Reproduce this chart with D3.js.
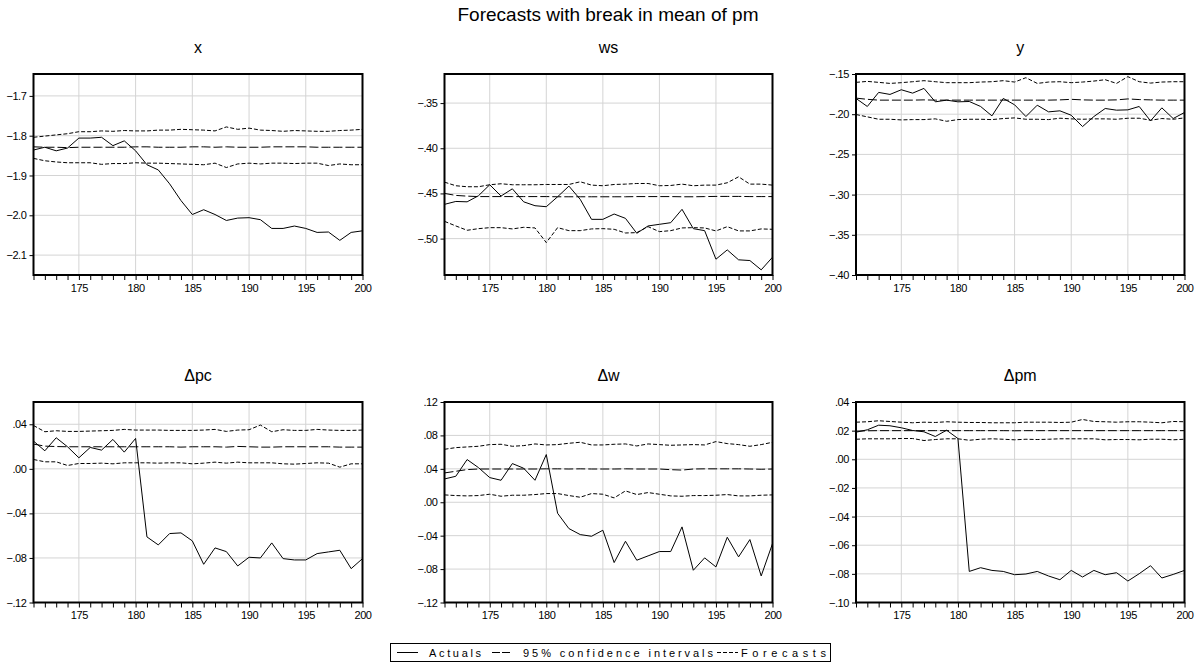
<!DOCTYPE html>
<html>
<head>
<meta charset="utf-8">
<script src="https://cdn.jsdelivr.net/npm/d3@7"></script>
<style>
  body { margin: 0; background: #fff; }
  svg { font-family: "Liberation Sans", Arial, sans-serif; }
  .tick text { font-size: 11px; fill: #000; letter-spacing: -0.4px; }
  .tick line { stroke: #000; }
  .grid line { stroke: #d4d4d4; stroke-width: 1; }
  .frame { fill: none; stroke: #000; stroke-width: 2; }
  .ptitle { font-size: 16px; text-anchor: middle; }
  .legend text { font-size: 11px; }
</style>
</head>
<body>
<svg width="1203" height="666"></svg>
<script>
var years = [171,172,173,174,175,176,177,178,179,180,181,182,183,184,185,186,187,188,189,190,191,192,193,194,195,196,197,198,199,200];
var xLabelYears = [175,180,185,190,195,200];

// x
var xActual = [-1.836,-1.829,-1.838,-1.831,-1.806,-1.806,-1.804,-1.825,-1.813,-1.838,-1.873,-1.886,-1.921,-1.963,-1.998,-1.986,-1.998,-2.013,-2.007,-2.006,-2.011,-2.033,-2.033,-2.027,-2.033,-2.043,-2.042,-2.063,-2.043,-2.039];
var xMid    = [-1.828,-1.829,-1.829,-1.830,-1.829,-1.829,-1.829,-1.829,-1.829,-1.828,-1.828,-1.829,-1.829,-1.829,-1.828,-1.828,-1.829,-1.828,-1.829,-1.829,-1.829,-1.828,-1.828,-1.828,-1.828,-1.829,-1.829,-1.829,-1.829,-1.829];
var xUpper  = [-1.804,-1.801,-1.798,-1.795,-1.790,-1.790,-1.788,-1.789,-1.787,-1.788,-1.788,-1.786,-1.786,-1.784,-1.785,-1.786,-1.788,-1.778,-1.784,-1.781,-1.786,-1.787,-1.789,-1.787,-1.788,-1.789,-1.789,-1.787,-1.786,-1.784];
var xLower  = [-1.857,-1.863,-1.866,-1.868,-1.868,-1.868,-1.872,-1.870,-1.870,-1.868,-1.869,-1.869,-1.870,-1.871,-1.872,-1.873,-1.869,-1.880,-1.871,-1.869,-1.871,-1.869,-1.869,-1.870,-1.869,-1.869,-1.875,-1.871,-1.873,-1.873];
var xTicks  = [-1.7,-1.8,-1.9,-2.0,-2.1];

// ws
var wsActual = [-0.4621,-0.4589,-0.4593,-0.4526,-0.4404,-0.4529,-0.4449,-0.4593,-0.4636,-0.4647,-0.4537,-0.4419,-0.4566,-0.4787,-0.4787,-0.4728,-0.4776,-0.4941,-0.4860,-0.4842,-0.4824,-0.4676,-0.4890,-0.4912,-0.5228,-0.5125,-0.5235,-0.5243,-0.5346,-0.5206];
var wsMid    = [-0.4500,-0.4522,-0.4530,-0.4535,-0.4535,-0.4535,-0.4535,-0.4535,-0.4535,-0.4535,-0.4537,-0.4537,-0.4537,-0.4537,-0.4537,-0.4537,-0.4537,-0.4535,-0.4535,-0.4535,-0.4535,-0.4537,-0.4537,-0.4535,-0.4533,-0.4533,-0.4533,-0.4535,-0.4535,-0.4535];
var wsUpper  = [-0.4375,-0.4415,-0.4426,-0.4426,-0.4404,-0.4393,-0.4404,-0.4404,-0.4404,-0.4401,-0.4401,-0.4401,-0.4371,-0.4408,-0.4415,-0.4401,-0.4397,-0.4390,-0.4390,-0.4415,-0.4412,-0.4397,-0.4415,-0.4408,-0.4408,-0.4382,-0.4316,-0.4397,-0.4397,-0.4408];
var wsLower  = [-0.4809,-0.4860,-0.4908,-0.4890,-0.4879,-0.4879,-0.4893,-0.4875,-0.4882,-0.5044,-0.4879,-0.4912,-0.4912,-0.4893,-0.4890,-0.4897,-0.4938,-0.4934,-0.4868,-0.4923,-0.4912,-0.4882,-0.4879,-0.4882,-0.4915,-0.4868,-0.4915,-0.4915,-0.4893,-0.4897];
var wsTicks  = [-0.35,-0.40,-0.45,-0.50];

// y
var yActual = [-0.1804,-0.1904,-0.1729,-0.1754,-0.1696,-0.1738,-0.1679,-0.1846,-0.1825,-0.1846,-0.1842,-0.1904,-0.2021,-0.1804,-0.1883,-0.2029,-0.1888,-0.1971,-0.1958,-0.2013,-0.2154,-0.2029,-0.1929,-0.1950,-0.1946,-0.1904,-0.2083,-0.1921,-0.2054,-0.1979];
var yMid    = [-0.1800,-0.1815,-0.1825,-0.1825,-0.1825,-0.1825,-0.1822,-0.1825,-0.1825,-0.1825,-0.1825,-0.1825,-0.1825,-0.1825,-0.1825,-0.1825,-0.1825,-0.1825,-0.1822,-0.1815,-0.1822,-0.1825,-0.1825,-0.1822,-0.1810,-0.1818,-0.1822,-0.1825,-0.1825,-0.1825];
var yUpper  = [-0.1604,-0.1592,-0.1604,-0.1617,-0.1608,-0.1596,-0.1583,-0.1596,-0.1608,-0.1608,-0.1608,-0.1600,-0.1596,-0.1583,-0.1600,-0.1546,-0.1617,-0.1600,-0.1596,-0.1608,-0.1600,-0.1588,-0.1571,-0.1617,-0.1533,-0.1596,-0.1613,-0.1600,-0.1596,-0.1596];
var yLower  = [-0.2004,-0.2033,-0.2063,-0.2063,-0.2071,-0.2067,-0.2067,-0.2058,-0.2088,-0.2067,-0.2063,-0.2063,-0.2067,-0.2054,-0.2046,-0.2063,-0.2063,-0.2067,-0.2050,-0.2058,-0.2063,-0.2058,-0.2058,-0.2063,-0.2050,-0.2050,-0.2075,-0.2054,-0.2063,-0.2046];
var yTicks  = [-0.15,-0.20,-0.25,-0.30,-0.35,-0.40];

// Δpc
var pcActual = [0.0249,0.0162,0.0279,0.0198,0.0099,0.0192,0.0168,0.0264,0.0150,0.0273,-0.0611,-0.0683,-0.0581,-0.0575,-0.0647,-0.0857,-0.0710,-0.0743,-0.0872,-0.0794,-0.0800,-0.0665,-0.0806,-0.0818,-0.0818,-0.0761,-0.0746,-0.0731,-0.0896,-0.0806];
var pcMid    = [0.0222,0.0204,0.0200,0.0198,0.0198,0.0198,0.0198,0.0198,0.0198,0.0198,0.0198,0.0198,0.0198,0.0195,0.0198,0.0198,0.0198,0.0195,0.0201,0.0198,0.0195,0.0195,0.0198,0.0198,0.0198,0.0198,0.0198,0.0195,0.0195,0.0195];
var pcUpper  = [0.0389,0.0333,0.0342,0.0336,0.0336,0.0339,0.0342,0.0345,0.0354,0.0348,0.0348,0.0348,0.0345,0.0345,0.0345,0.0348,0.0354,0.0336,0.0348,0.0351,0.0393,0.0333,0.0351,0.0345,0.0345,0.0354,0.0348,0.0345,0.0345,0.0348];
var pcLower  = [0.0084,0.0063,0.0063,0.0030,0.0048,0.0048,0.0051,0.0045,0.0054,0.0054,0.0054,0.0051,0.0054,0.0054,0.0045,0.0051,0.0060,0.0051,0.0060,0.0054,0.0054,0.0054,0.0045,0.0042,0.0048,0.0054,0.0051,0.0015,0.0045,0.0045];
var pcTicks  = [0.04,0.00,-0.04,-0.08,-0.12];

// Δw
var wActual = [0.0279,0.0311,0.0511,0.0415,0.0295,0.0263,0.0463,0.0407,0.0263,0.0571,-0.0132,-0.0315,-0.0387,-0.0407,-0.0335,-0.0722,-0.0467,-0.0694,-0.0642,-0.0590,-0.0590,-0.0295,-0.0814,-0.0666,-0.0774,-0.0419,-0.0654,-0.0447,-0.0882,-0.0495];
var wMid    = [0.0351,0.0371,0.0391,0.0398,0.0398,0.0398,0.0398,0.0398,0.0398,0.0400,0.0400,0.0398,0.0400,0.0398,0.0398,0.0398,0.0400,0.0398,0.0398,0.0398,0.0390,0.0385,0.0398,0.0400,0.0400,0.0400,0.0400,0.0398,0.0395,0.0398];
var wUpper  = [0.0634,0.0654,0.0662,0.0670,0.0690,0.0694,0.0670,0.0678,0.0698,0.0686,0.0690,0.0706,0.0718,0.0686,0.0686,0.0694,0.0698,0.0674,0.0698,0.0690,0.0682,0.0686,0.0690,0.0686,0.0726,0.0702,0.0690,0.0670,0.0690,0.0718];
var wLower  = [0.0088,0.0080,0.0076,0.0080,0.0096,0.0072,0.0084,0.0084,0.0092,0.0104,0.0104,0.0080,0.0060,0.0104,0.0096,0.0052,0.0136,0.0092,0.0116,0.0096,0.0076,0.0072,0.0080,0.0080,0.0084,0.0092,0.0076,0.0076,0.0084,0.0088];
var wTicks  = [0.12,0.08,0.04,0.00,-0.04,-0.08,-0.12];

// Δpm
var pmActual = [0.0189,0.0206,0.0238,0.0234,0.0220,0.0201,0.0192,0.0159,0.0203,0.0145,-0.0783,-0.0757,-0.0776,-0.0783,-0.0806,-0.0801,-0.0783,-0.0815,-0.0841,-0.0776,-0.0822,-0.0776,-0.0806,-0.0792,-0.0850,-0.0799,-0.0743,-0.0829,-0.0804,-0.0776];
var pmMid    = [0.0196,0.0199,0.0200,0.0200,0.0200,0.0200,0.0200,0.0200,0.0200,0.0200,0.0200,0.0200,0.0200,0.0200,0.0199,0.0200,0.0200,0.0200,0.0200,0.0200,0.0200,0.0200,0.0200,0.0200,0.0200,0.0200,0.0200,0.0200,0.0200,0.0200];
var pmUpper  = [0.0259,0.0262,0.0269,0.0264,0.0259,0.0255,0.0259,0.0257,0.0262,0.0259,0.0257,0.0257,0.0255,0.0255,0.0255,0.0259,0.0259,0.0259,0.0257,0.0259,0.0278,0.0264,0.0262,0.0259,0.0262,0.0262,0.0259,0.0255,0.0264,0.0262];
var pmLower  = [0.0140,0.0143,0.0143,0.0143,0.0145,0.0145,0.0131,0.0138,0.0143,0.0143,0.0133,0.0140,0.0143,0.0140,0.0136,0.0140,0.0138,0.0140,0.0143,0.0143,0.0143,0.0143,0.0136,0.0138,0.0138,0.0136,0.0140,0.0140,0.0136,0.0140];
var pmTicks  = [0.04,0.02,0.00,-0.02,-0.04,-0.06,-0.08,-0.10];

var legendLabels = ["Actuals", "95% confidence intervals", "Forecasts"];

var svg = d3.select("svg");
svg.append("rect").attr("width", 1203).attr("height", 666).attr("fill", "#fff");

svg.append("text")
  .attr("x", 608).attr("y", 21)
  .attr("text-anchor", "middle")
  .style("font-size", "19px")
  .text("Forecasts with break in mean of pm");

var cols = [[33.5, 362.5], [444.5, 772.5], [856, 1184.5]];
var rows = [[74, 275], [402, 602.5]];

var fmt1 = d3.format(".1f");
var fmt2 = function(d) { return d3.format(".2f")(d).replace("0.", "."); };

var panels = [
  {title: "x",   actual: xActual,  mid: xMid,  upper: xUpper,  lower: xLower,  dom: [-2.15, -1.645], ticks: xTicks,  fmt: fmt1, c: 0, r: 0},
  {title: "ws",  actual: wsActual, mid: wsMid, upper: wsUpper, lower: wsLower, dom: [-0.5403, -0.3178], ticks: wsTicks, fmt: fmt2, c: 1, r: 0},
  {title: "y",   actual: yActual,  mid: yMid,  upper: yUpper,  lower: yLower,  dom: [-0.40, -0.15], ticks: yTicks,  fmt: fmt2, c: 2, r: 0},
  {title: "\u0394pc", actual: pcActual, mid: pcMid, upper: pcUpper, lower: pcLower, dom: [-0.12, 0.06], ticks: pcTicks, fmt: fmt2, c: 0, r: 1},
  {title: "\u0394w",  actual: wActual,  mid: wMid,  upper: wUpper,  lower: wLower,  dom: [-0.12, 0.12], ticks: wTicks,  fmt: fmt2, c: 1, r: 1},
  {title: "\u0394pm", actual: pmActual, mid: pmMid, upper: pmUpper, lower: pmLower, dom: [-0.10, 0.04], ticks: pmTicks, fmt: fmt2, c: 2, r: 1}
];

panels.forEach(function(p) {
  var x0 = cols[p.c][0], x1 = cols[p.c][1];
  var y0 = rows[p.r][0], y1 = rows[p.r][1];

  var x = d3.scaleLinear().domain([171, 200]).range([x0, x1]);
  var y = d3.scaleLinear().domain(p.dom).range([y1, y0]);

  var g = svg.append("g");

  // grid
  var grid = g.append("g").attr("class", "grid");
  grid.selectAll(".vg")
    .data(xLabelYears.filter(function(d) { return d < 200; }))
    .enter().append("line")
      .attr("x1", function(d) { return x(d); })
      .attr("x2", function(d) { return x(d); })
      .attr("y1", y0).attr("y2", y1);
  grid.selectAll(".hg")
    .data(p.ticks.filter(function(d) { return Math.abs(y(d) - y0) > 1 && Math.abs(y(d) - y1) > 1; }))
    .enter().append("line")
      .attr("x1", x0).attr("x2", x1)
      .attr("y1", function(d) { return y(d); })
      .attr("y2", function(d) { return y(d); });

  var line = d3.line()
    .x(function(d, i) { return x(years[i]); })
    .y(function(d) { return y(d); });

  var series = [
    {v: p.upper, dash: "4,2"},
    {v: p.lower, dash: "4,2"},
    {v: p.mid, dash: "9,3"},
    {v: p.actual, dash: null}
  ];
  g.selectAll(".s")
    .data(series)
    .enter().append("path")
      .attr("d", function(s) { return line(s.v); })
      .attr("fill", "none")
      .attr("stroke", "#000")
      .attr("stroke-width", 1)
      .attr("stroke-dasharray", function(s) { return s.dash; });

  // axes
  var ax = g.append("g")
    .attr("transform", "translate(0," + y1 + ")")
    .call(d3.axisBottom(x)
      .tickValues(years)
      .tickSize(5)
      .tickPadding(4)
      .tickFormat(function(d) { return d % 5 === 0 ? d : ""; }));
  ax.select(".domain").remove();

  var ay = g.append("g")
    .attr("transform", "translate(" + x0 + ",0)")
    .call(d3.axisLeft(y)
      .tickValues(p.ticks)
      .tickSize(4)
      .tickPadding(3)
      .tickFormat(p.fmt));
  ay.select(".domain").remove();

  g.append("rect")
    .attr("class", "frame")
    .attr("x", x0).attr("y", y0)
    .attr("width", x1 - x0).attr("height", y1 - y0);

  svg.append("text")
    .attr("class", "ptitle")
    .attr("x", (x0 + x1) / 2)
    .attr("y", y0 - 21)
    .text(p.title);
});

// legend
var leg = svg.append("g").attr("class", "legend");
leg.append("rect")
  .attr("x", 390.5).attr("y", 643.5)
  .attr("width", 440).attr("height", 18)
  .attr("fill", "#fff").attr("stroke", "#000").attr("stroke-width", 1);

var legPos = [
  {x: 397, tx: 429, tw: 52, dash: null},
  {x: 492, tx: 523, tw: 190, dash: "8,2,8,3,1,3"},
  {x: 717, tx: 741, tw: 85, dash: "4,2"}
];
legPos.forEach(function(it, i) {
  leg.append("line")
    .attr("x1", it.x).attr("x2", it.x + 21)
    .attr("y1", 652.5).attr("y2", 652.5)
    .attr("stroke", "#000").attr("stroke-width", 1)
    .attr("stroke-dasharray", it.dash);
  leg.append("text")
    .attr("x", it.tx).attr("y", 656.5)
    .attr("textLength", it.tw)
    .attr("lengthAdjust", "spacing")
    .text(legendLabels[i]);
});
</script>
</body>
</html>
